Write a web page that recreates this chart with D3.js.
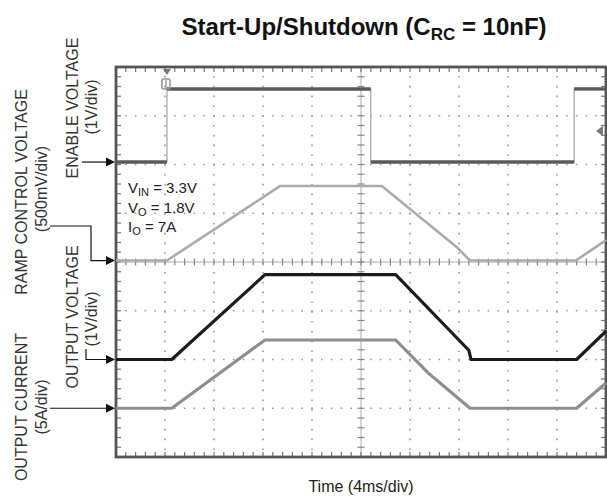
<!DOCTYPE html>
<html><head><meta charset="utf-8">
<script src="https://cdn.jsdelivr.net/npm/d3@7"></script>
<style>
body{margin:0;background:#fff;}
svg{display:block;font-family:"Liberation Sans",Arial,sans-serif;}
</style></head>
<body><svg id="c" width="607" height="497"></svg>
<script>
// ---- data (time in ms, 4 ms/div) ----
const enableT  = [0, 4.16, 4.16, 20.8, 20.8, 37.4, 37.4, 40];
const enableV  = [0, 0, 1.5, 1.5, 0, 0, 1.5, 1.5];           // V, 1V/div
const rampT    = [0, 4.16, 13.4, 21.7, 27.8, 28.9, 37.55, 40];
const rampV    = [0, 0, 0.765, 0.765, 0.14, 0, 0, 0.21];      // V, 500mV/div
const voutT    = [0, 4.55, 12.16, 22.83, 28.8, 28.98, 37.6, 40];
const voutV    = [0, 0, 1.74, 1.74, 0.19, 0, 0, 0.58];        // V, 1V/div
const ioutT    = [0, 4.55, 12.16, 22.83, 25.5, 28.9, 37.6, 40];
const ioutA    = [0, 0, 7, 7, 3.6, 0, 0, 2.6];                // A, 5A/div
const channelNames = ["ENABLE VOLTAGE", "RAMP CONTROL VOLTAGE", "OUTPUT VOLTAGE", "OUTPUT CURRENT"];
const channelScales = ["(1V/div)", "(500mV/div)", "(1V/div)", "(5A/div)"];
const voltsPerDiv = [1, 0.5, 1, 5];
const refDiv = [6.05, 4.03, 2.0, 1.0];   // ground reference position in screen divisions

const svg = d3.select("#c");
const L = 116, R = 606, T = 67, B = 457;
const x = d3.scaleLinear().domain([0, 40]).range([L, R]);
const yd = d3.scaleLinear().domain([0, 8]).range([B, T]);

// grid (dotted)
const dot = "1.6 8.2";
const g = svg.append("g");
d3.range(1, 10).filter(i => i !== 5).forEach(i => {
  g.append("line").attr("x1", x(i*4)).attr("x2", x(i*4)).attr("y1", T).attr("y2", B)
   .attr("stroke", "#9a9a9a").attr("stroke-width", 1.6).attr("stroke-dasharray", dot)
   .attr("stroke-dashoffset", 0.8);
});
d3.range(1, 8).filter(i => i !== 4).forEach(i => {
  g.append("line").attr("y1", yd(i)).attr("y2", yd(i)).attr("x1", L).attr("x2", R)
   .attr("stroke", "#9a9a9a").attr("stroke-width", 1.6).attr("stroke-dasharray", dot)
   .attr("stroke-dashoffset", 0.8);
});
// center cross lines with minor ticks
const cx = x(20), cy = yd(4);
g.append("line").attr("x1", cx).attr("x2", cx).attr("y1", T).attr("y2", B).attr("stroke", "#aaa").attr("stroke-width", 1);
g.append("line").attr("y1", cy).attr("y2", cy).attr("x1", L).attr("x2", R).attr("stroke", "#aaa").attr("stroke-width", 1);
const minorX = d3.range(0, 40.01, 0.8), minorY = d3.range(0, 8.01, 0.2);
minorY.forEach(d => {
  g.append("line").attr("x1", cx-3.5).attr("x2", cx+3.5).attr("y1", yd(d)).attr("y2", yd(d)).attr("stroke", "#888").attr("stroke-width", 1.2);
  g.append("line").attr("x1", L).attr("x2", L+5).attr("y1", yd(d)).attr("y2", yd(d)).attr("stroke", "#777").attr("stroke-width", 1.2);
  g.append("line").attr("x1", R-5).attr("x2", R).attr("y1", yd(d)).attr("y2", yd(d)).attr("stroke", "#777").attr("stroke-width", 1.2);
});
minorX.forEach(t => {
  g.append("line").attr("y1", cy-3.5).attr("y2", cy+3.5).attr("x1", x(t)).attr("x2", x(t)).attr("stroke", "#888").attr("stroke-width", 1.2);
  g.append("line").attr("y1", T).attr("y2", T+5).attr("x1", x(t)).attr("x2", x(t)).attr("stroke", "#777").attr("stroke-width", 1.2);
  g.append("line").attr("y1", B-5).attr("y2", B).attr("x1", x(t)).attr("x2", x(t)).attr("stroke", "#777").attr("stroke-width", 1.2);
});
// border
g.append("rect").attr("x", L).attr("y", T).attr("width", R-L).attr("height", B-T)
 .attr("fill", "none").attr("stroke", "#555").attr("stroke-width", 2.8);

// traces
function pts(ts, vs, ch){ return ts.map((t,i)=>[x(t), yd(refDiv[ch] + vs[i]/voltsPerDiv[ch])]); }
const line = d3.line();
const tr = svg.append("g").attr("fill", "none").attr("stroke-linejoin", "round");
// enable: thin light edges + thick dark levels
const enP = pts(enableT, enableV, 0);
tr.append("path").attr("d", line(enP)).attr("stroke", "#aaa").attr("stroke-width", 1.3);
for (let i = 0; i < enP.length-1; i++) {
  if (enableV[i] === enableV[i+1]) tr.append("path").attr("d", line([enP[i], enP[i+1]])).attr("stroke", "#5a5a5a").attr("stroke-width", 3.4);
}
tr.append("path").attr("d", line(pts(rampT, rampV, 1))).attr("stroke", "#ababab").attr("stroke-width", 2.6);
tr.append("path").attr("d", line(pts(ioutT, ioutA, 3))).attr("stroke", "#8e8e8e").attr("stroke-width", 3.2);
tr.append("path").attr("d", line(pts(voutT, voutV, 2))).attr("stroke", "#1c1c1c").attr("stroke-width", 3.2);

// trigger markers
const tx = x(enableT[1]);
svg.append("path").attr("d", `M${tx-4},${T+2}L${tx+4},${T+2}L${tx},${T+8}Z`).attr("fill", "#777");
svg.append("rect").attr("x", tx-5).attr("y", 79).attr("width", 8).attr("height", 10).attr("rx", 1.5)
  .attr("fill", "none").attr("stroke", "#999").attr("stroke-width", 1.6);
svg.append("line").attr("x1", tx-1).attr("x2", tx-1).attr("y1", 80).attr("y2", 89).attr("stroke", "#999").attr("stroke-width", 1.4);
svg.append("path").attr("d", `M${R-10},131L${R-3},126L${R-3},136Z`).attr("fill", "#777");

// title
const title = svg.append("text").attr("x", 364).attr("y", 35).attr("text-anchor", "middle")
  .attr("font-size", 24).attr("font-weight", "bold").attr("fill", "#111");
title.append("tspan").text("Start-Up/Shutdown (C");
title.append("tspan").attr("font-size", 17).attr("dy", 5).text("RC");
title.append("tspan").attr("dy", -5).text(" = 10nF)");

// x label
svg.append("text").attr("x", x(20)).attr("y", 492).attr("text-anchor", "middle")
  .attr("font-size", 16).attr("fill", "#222").text("Time (4ms/div)");

// conditions annotation
const notes = [["V","IN"," = 3.3V"],["V","O"," = 1.8V"],["I","O"," = 7A"]];
notes.forEach((n, i) => {
  const t = svg.append("text").attr("x", 128).attr("y", 193 + i*19.5).attr("font-size", 15).attr("fill", "#222");
  t.append("tspan").text(n[0]);
  t.append("tspan").attr("font-size", 11).attr("dy", 3).text(n[1]);
  t.append("tspan").attr("dy", -3).text(n[2]);
});

// channel labels (rotated)
const labelPos = [
  {x1: 78, c1: 108, x2: 97, c2: 107},
  {x1: 27, c1: 192, x2: 47, c2: 189},
  {x1: 78, c1: 317, x2: 97, c2: 319},
  {x1: 27, c1: 407, x2: 47, c2: 407}
];
channelNames.forEach((nm, i) => {
  const p = labelPos[i];
  svg.append("text").attr("transform", `translate(${p.x1},${p.c1}) rotate(-90)`).attr("text-anchor", "middle")
    .attr("font-size", 16).attr("fill", "#333").text(nm);
  svg.append("text").attr("transform", `translate(${p.x2},${p.c2}) rotate(-90)`).attr("text-anchor", "middle")
    .attr("font-size", 16).attr("fill", "#333").text(channelScales[i]);
});

// arrows to reference levels
const arr = svg.append("g").attr("stroke", "#111").attr("fill", "none").attr("stroke-width", 1.2);
function head(yy){ svg.append("path").attr("d", `M${L-1},${yy}L${L-10},${yy-4.5}L${L-10},${yy+4.5}Z`).attr("fill", "#111"); }
const yE = yd(refDiv[0]), yR = yd(refDiv[1]), yV = yd(refDiv[2]), yI = yd(refDiv[3]);
arr.append("path").attr("d", `M82,${yE}H${L-9}`); head(yE);
arr.append("path").attr("d", `M50,226H91V${yR}H${L-9}`); head(yR);
arr.append("path").attr("d", `M86,349V${yV}H${L-9}`); head(yV);
arr.append("path").attr("d", `M50,${yI}H${L-9}`); head(yI);
</script></body></html>
